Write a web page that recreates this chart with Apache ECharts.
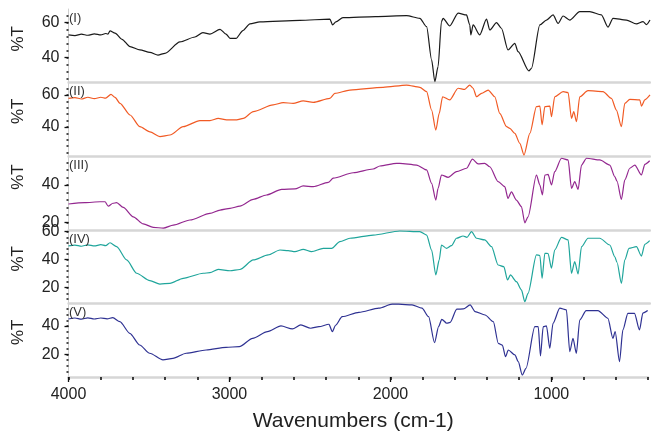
<!DOCTYPE html>
<html>
<head>
<meta charset="utf-8">
<title>FTIR spectra</title>
<script src="https://cdn.jsdelivr.net/npm/echarts@6/dist/echarts.min.js"></script>
<style>
    html, body { margin: 0; padding: 0; background: #fff; }
    #chart { width: 651px; height: 434px; }
</style>
</head>
<body>
<div id="chart"></div>
<script>
// wavenumber (cm-1) and %T

var wnI = [4000, 3960, 3920, 3880, 3840, 3800, 3770, 3756, 3743, 3712, 3669, 3619, 3558, 3496, 3446, 3403, 3310, 3217, 3168, 3124,
    3062, 3025, 3000, 2963, 2920, 2877, 2815, 2568, 2382, 2365, 2345, 2301, 2100, 1907, 1825, 1783, 1752, 1732, 1712, 1691,
    1681, 1640, 1588, 1536, 1516, 1509, 1495, 1454, 1412, 1392, 1350, 1320, 1279, 1237, 1217, 1150, 1134, 1082, 1041, 1000,
    969, 938, 897, 835, 773, 701, 660, 629, 546, 484, 443, 422, 400];
var tI = [53, 52.6, 53.4, 52.8, 53.6, 53.0, 53.8, 53.5, 55.3, 54, 50.5, 46.3, 44.4, 43, 41.5, 42.5, 49, 51.8, 54.3, 53.5,
    56.2, 53.5, 51, 51, 55.5, 59.3, 60.4, 61.3, 62, 58.7, 60.5, 62.9, 63.5, 64, 62.5, 57.7, 38.7, 26.3, 34.9, 60.6,
    62.5, 58.1, 65.4, 64.4, 58.7, 53, 58.7, 53, 62, 55.8, 60, 56.8, 44.4, 48.2, 43.4, 32.4, 33.9, 58.7, 61.5, 64.4,
    59.6, 63.8, 61.5, 66.3, 66.3, 64.4, 57.4, 62.5, 61.5, 59.3, 60.6, 58.9, 61.5];

var wnII = [4000, 3960, 3920, 3880, 3840, 3800, 3770, 3737, 3712, 3681, 3619, 3558, 3496, 3434, 3372, 3290, 3186, 3124, 3073, 3021,
    2959, 2918, 2856, 2733, 2671, 2609, 2547, 2485, 2382, 2351, 2258, 2052, 1907, 1825, 1783, 1752, 1726, 1705, 1684, 1640,
    1588, 1547, 1516, 1495, 1474, 1443, 1402, 1361, 1330, 1288, 1268, 1237, 1206, 1180, 1144, 1103, 1082, 1068, 1051, 1020,
    1010, 990, 938, 907, 886, 872, 855, 835, 784, 691, 639, 608, 577, 556, 525, 463, 453, 432, 400];
var tII = [57.9, 58.4, 57.5, 58.6, 57.7, 58.6, 58.0, 60.4, 58.5, 54.8, 47.5, 40.2, 37, 34, 35, 40.2, 44, 44, 45.4, 44.4,
    44.4, 45.4, 49.6, 53.8, 55.2, 54.8, 56.3, 55.4, 57.9, 61, 63.1, 64.8, 66.2, 64.8, 62.1, 50.6, 38.1, 48.5, 58.9, 56.9,
    64.2, 63.5, 66.2, 64.2, 58.9, 61, 63.1, 58.9, 48.5, 40.2, 39.2, 36, 29.8, 22.5, 36, 52.7, 53, 41.3, 52.7, 53,
    46.4, 58.9, 62.1, 61.5, 45.4, 49.6, 43.3, 58.9, 62.7, 62.1, 57.9, 50.6, 40.2, 54.8, 57.3, 56.9, 53.1, 57, 60];

var wnIII = [4000, 3900, 3805, 3774, 3754, 3725, 3702, 3661, 3599, 3537, 3475, 3413, 3351, 3248, 3124, 3062, 3000, 2939, 2856, 2774,
    2680, 2598, 2547, 2485, 2392, 2361, 2238, 2114, 2072, 1969, 1949, 1845, 1783, 1752, 1726, 1712, 1691, 1650, 1598, 1536,
    1499, 1464, 1423, 1392, 1340, 1299, 1279, 1258, 1227, 1196, 1175, 1155, 1103, 1082, 1066, 1051, 1031, 1010, 990, 948,
    907, 886, 866, 845, 824, 793, 711, 649, 618, 604, 577, 556, 525, 494, 453, 432, 402];
var tIII = [29.9, 30.6, 31.1, 31.1, 28.8, 30.3, 30.6, 28.1, 23.1, 19.3, 17.5, 17.1, 18.7, 21.4, 24.9, 26.7, 27.6, 28.8, 32.4, 34.7,
    37.7, 37.9, 39.5, 39.1, 41.4, 43.6, 46.5, 48.5, 50.1, 51.5, 51.5, 50.6, 48, 40.9, 32, 38.2, 45.3, 44.1, 47.1, 48.9,
    53.7, 51.2, 51.5, 49.7, 41.8, 39.1, 32.9, 36.4, 32, 28.5, 19.9, 23.1, 45.3, 40, 34.7, 45.3, 45.6, 40, 47.1, 54.2,
    53.3, 38.2, 41.8, 37.7, 50.6, 54.2, 53.3, 50.6, 44.4, 42, 32.4, 42.7, 48.9, 50.6, 45.3, 51, 52.9];

var wnIV = [4000, 3960, 3920, 3880, 3840, 3800, 3770, 3743, 3702, 3640, 3578, 3496, 3434, 3372, 3290, 3166, 3124, 3073, 3000, 2939,
    2856, 2764, 2691, 2640, 2598, 2547, 2495, 2423, 2371, 2320, 2258, 2114, 1949, 1825, 1783, 1752, 1726, 1705, 1691, 1660,
    1629, 1598, 1557, 1533, 1505, 1474, 1423, 1381, 1340, 1305, 1282, 1264, 1227, 1196, 1175, 1155, 1103, 1082, 1068, 1051,
    1031, 1010, 990, 948, 907, 886, 866, 845, 824, 784, 711, 649, 618, 604, 577, 556, 530, 484, 453, 432, 402];
var tIV = [49.8, 50.4, 49.6, 50.6, 49.8, 50.7, 50.0, 52.1, 49.3, 39.8, 30.3, 25, 22.6, 23.1, 26.7, 30.3, 30.7, 33.1, 32.1, 33,
    39.8, 43.4, 46.9, 46.5, 45.7, 47.4, 45.7, 48.1, 48.1, 52.9, 55.3, 57.6, 60.5, 60, 57.6, 46.9, 29.1, 39.8, 50.5, 48.1,
    50, 55.3, 56.9, 56, 60, 55.3, 54.1, 49.3, 36.2, 35, 25.5, 29.1, 24.3, 18.4, 10, 16, 43.4, 43, 26.7, 44.6,
    44.4, 33.9, 46.9, 56, 54.1, 30.3, 38.6, 29.8, 49.3, 55.3, 55.3, 50.5, 42.1, 38, 23.1, 39.8, 48.1, 49.3, 42.6, 51, 53.6];

var wnV = [4000, 3960, 3920, 3880, 3840, 3800, 3760, 3725, 3681, 3619, 3558, 3496, 3413, 3351, 3269, 3145, 3021, 2939, 2856, 2764,
    2680, 2609, 2557, 2495, 2444, 2382, 2361, 2341, 2300, 2196, 2072, 1990, 1949, 1866, 1804, 1763, 1726, 1701, 1681, 1650,
    1629, 1588, 1547, 1505, 1474, 1412, 1361, 1330, 1305, 1285, 1268, 1227, 1206, 1181, 1158, 1103, 1082, 1068, 1051, 1031,
    1010, 990, 948, 907, 886, 866, 845, 824, 784, 711, 649, 618, 604, 577, 556, 525, 484, 453, 432, 402];
var tV = [44.9, 45.6, 44.8, 45.7, 44.9, 45.6, 45.0, 45.8, 43, 34.8, 26.6, 20.8, 16.1, 17.2, 20.8, 23.1, 25, 25.4, 31.3, 36,
    40, 37.9, 40.7, 38.4, 39.5, 41.2, 36, 40.5, 46.5, 49.6, 52.5, 55.3, 55.3, 54.8, 52.5, 46.5, 28.2, 39.5, 44.7, 41.9,
    42.5, 51.8, 52, 54.8, 50.1, 47.7, 43, 27.8, 26.6, 18.4, 23.1, 19.6, 14.9, 5.5, 10.2, 39.5, 39.5, 18.9, 39.5, 40,
    24.3, 41.9, 52.5, 51.3, 21.9, 31.3, 20.8, 44.2, 50.8, 50.8, 45.4, 31.3, 36, 14.9, 37.2, 48.9, 48.9, 37.2, 49, 50.8];

var panelNames = ['(I)', '(II)', '(III)', '(IV)', '(V)'];
var panelColors = ['#1a1a1a', '#f15a24', '#93278f', '#1fa59b', '#2e3192'];
var yMin = [25.8, 21.9, 16.1, 8.7, 4.1];
var yMax = [67.8, 67.8, 55.4, 61.2, 55.8];
var yLabels = [[40, 60], [40, 60], [20, 40], [20, 40, 60], [20, 40]];
var xLabels = [4000, 3000, 2000, 1000];

// layout (pixels)
var panelTop = [9, 82.5, 156, 230, 303.5];
var panelBottom = [82.5, 156, 230, 303.5, 377];
var nameShift = [14, 16, 32, 16, 16];
var fontName = 'Liberation Sans, Arial, sans-serif';

function pairs(xs, ys) {
    var out = [];
    for (var i = 0; i < xs.length; i++) {
        out.push([xs[i], ys[i]]);
    }
    return out;
}

function minorValues(lo, hi, step) {
    var out = [];
    for (var v = Math.ceil(lo / step) * step; v <= hi; v += step) {
        out.push(v);
    }
    return out;
}

var spectra = [pairs(wnI, tI), pairs(wnII, tII), pairs(wnIII, tIII), pairs(wnIV, tIV), pairs(wnV, tV)];

var grids = [], xAxes = [], yAxes = [], series = [], titles = [];

for (var i = 0; i < 5; i++) {
    var last = (i === 4);
    grids.push({
        left: 68.5,
        right: 1,
        top: panelTop[i],
        height: panelBottom[i] - panelTop[i]
    });

    xAxes.push({
        type: 'value',
        gridIndex: i,
        position: 'bottom',
        min: 400,
        max: 4000,
        inverse: true,
        interval: 200,
        axisLine: { show: true, lineStyle: { color: '#d6d6d6', width: 2.5 } },
        axisTick: { show: last, length: 3, lineStyle: { color: '#111', width: 1.6 } },
        axisLabel: {
            show: last,
            margin: 10,
            fontSize: 16,
            color: '#222',
            fontFamily: fontName,
            formatter: function (v) { return v % 1000 === 0 ? String(v) : ''; }
        },
        splitLine: { show: false },
        name: last ? 'Wavenumbers (cm-1)' : '',
        nameLocation: 'middle',
        nameGap: 34,
        nameTextStyle: { fontSize: 21, color: '#222', fontFamily: fontName, padding: [0, 10, 0, 0] }
    });

    // main y axis: labels and major ticks
    yAxes.push({
        type: 'value',
        gridIndex: i,
        min: yMin[i],
        max: yMax[i],
        position: 'left',
        axisLine: { show: true, lineStyle: { color: '#cfcfcf', width: 1 } },
        axisTick: { show: true, customValues: yLabels[i], length: 4, lineStyle: { color: '#111', width: 1.3 } },
        axisLabel: { customValues: yLabels[i], margin: 9, fontSize: 16, color: '#222', fontFamily: fontName },
        splitLine: { show: false },
        name: '%T',
        nameLocation: 'middle',
        nameGap: 42,
        nameTextStyle: { fontSize: 17, color: '#222', fontFamily: fontName, padding: [0, 0, 0, nameShift[i]] }
    });
    // second y axis on the same grid: small dotted ticks
    yAxes.push({
        type: 'value',
        gridIndex: i,
        min: yMin[i],
        max: yMax[i],
        position: 'left',
        axisLine: { show: false },
        axisTick: { show: true, customValues: minorValues(yMin[i], yMax[i], 4), length: 2, lineStyle: { color: '#111', width: 1.5 } },
        axisLabel: { show: false },
        splitLine: { show: false }
    });

    series.push({
        type: 'line',
        xAxisIndex: i,
        yAxisIndex: i * 2,
        data: spectra[i],
        showSymbol: false,
        smooth: 0.25,
        smoothMonotone: 'x',
        lineStyle: { color: panelColors[i], width: 1.2 },
        itemStyle: { color: panelColors[i] }
    });

    titles.push({
        text: panelNames[i],
        left: 69,
        top: panelTop[i] + (i === 0 ? 3 : 2.5),
        padding: 0,
        textStyle: { fontSize: 13, fontWeight: 'normal', color: '#333', fontFamily: fontName }
    });
}

// longer ticks at the thousands on the bottom axis
xAxes.push({
    type: 'value',
    gridIndex: 4,
    position: 'bottom',
    min: 400,
    max: 4000,
    inverse: true,
    axisLine: { show: false },
    axisTick: { show: true, customValues: xLabels, length: 5, lineStyle: { color: '#111', width: 1.3 } },
    axisLabel: { show: false },
    splitLine: { show: false }
});

var myChart = echarts.init(document.getElementById('chart'), null, { renderer: 'canvas' });
myChart.setOption({
    animation: false,
    backgroundColor: '#fff',
    title: titles,
    grid: grids,
    xAxis: xAxes,
    yAxis: yAxes,
    series: series
});
</script>
</body>
</html>
